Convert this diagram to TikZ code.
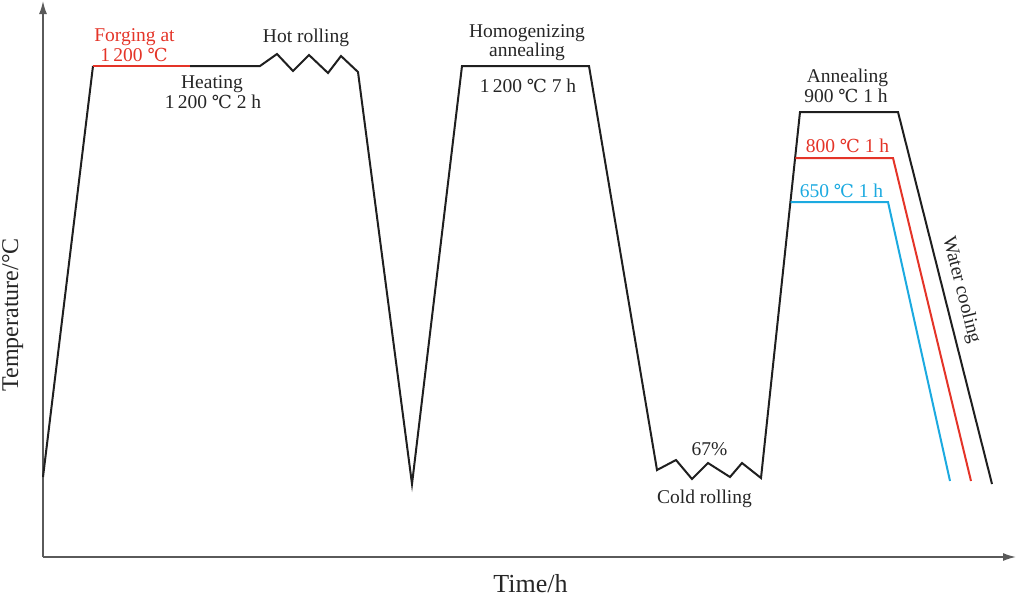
\documentclass[tikz,border=0pt]{standalone}
\usepackage{fontspec}
\setmainfont{Liberation Serif}
\newfontfamily\symfont[Scale=0.92]{DejaVu Serif}
\usetikzlibrary{arrows.meta}
\newcommand\dgc{{\symfont ℃}}
\definecolor{myred}{RGB}{228,52,40}
\definecolor{myblue}{RGB}{28,170,224}
\definecolor{axisgray}{RGB}{90,90,90}
\begin{document}
\begin{tikzpicture}[x=1pt,y=-1pt,
  lab/.style={font=\fontsize{19.5}{20}\selectfont, inner sep=0pt, anchor=base, text=black!85},
  curve/.style={line width=2pt, draw=black!88, line join=miter},
  axisline/.style={line width=1.6pt, draw=axisgray, -{Latex[length=13pt,width=8pt]}}]
\useasboundingbox (0,0) rectangle (1017,598);
% axes
\coordinate (O) at (43,557);
\coordinate (ytop) at (43,1);
\coordinate (xend) at (1016,557);
\draw[axisline] (O) -- (ytop);
\draw[axisline] (O) -- (xend);
% main curve coordinates
\coordinate (p0) at (43,477);
\coordinate (p1) at (93,66);
\coordinate (p2) at (190,66);
\coordinate (h0) at (260,66);
\coordinate (h1) at (277,54);
\coordinate (h2) at (293,71);
\coordinate (h3) at (309,55);
\coordinate (h4) at (328,73);
\coordinate (h5) at (341,56);
\coordinate (h6) at (358,72);
\coordinate (q0) at (412,484);
\coordinate (q1) at (462,66);
\coordinate (q2) at (589,66);
\coordinate (c0) at (657,470);
\coordinate (c1) at (676,460);
\coordinate (c2) at (692,479);
\coordinate (c3) at (708,463);
\coordinate (c4) at (730,477);
\coordinate (c5) at (742,463);
\coordinate (c6) at (761,478);
\coordinate (a1) at (800,112);
\coordinate (a2) at (898,112);
\coordinate (a3) at (992,484);
\coordinate (r1) at (795.4,158);
\coordinate (r2) at (893,158);
\coordinate (r3) at (971,481);
\coordinate (b1) at (790.6,202);
\coordinate (b2) at (888,202);
\coordinate (b3) at (950,481);
% curves
\draw[curve] (p0) -- (p1);
\draw[curve, draw=myred, line cap=butt] (p1) -- (p2);
\draw[curve] (p2) -- (h0) -- (h1) -- (h2) -- (h3) -- (h4) -- (h5) -- (h6) -- (q0) -- (q1) -- (q2)
  -- (c0) -- (c1) -- (c2) -- (c3) -- (c4) -- (c5) -- (c6) -- (a1) -- (a2) -- (a3);
\draw[curve, draw=myred] (r1) -- (r2) -- (r3);
\draw[curve, draw=myblue] (b1) -- (b2) -- (b3);
% labels
\node[lab, text=myred] (forge1) at (134.5,41) {Forging at};
\node[lab, text=myred] (forge2) at (134,61) {1\,200 \dgc};
\node[lab] (hot) at (306,42) {Hot rolling};
\node[lab] (heat1) at (212,88) {Heating};
\node[lab] (heat2) at (213,108) {1\,200 \dgc\ 2 h};
\node[lab] (homo1) at (527,37) {Homogenizing};
\node[lab] (homo2) at (527,56) {annealing};
\node[lab] (homo3) at (528,92) {1\,200 \dgc\ 7 h};
\node[lab] (pct) at (709.5,455) {67\%};
\node[lab] (cold) at (704.5,503) {Cold rolling};
\node[lab] (ann1) at (847.5,82) {Annealing};
\node[lab] (ann2) at (846,102) {900 \dgc\ 1 h};
\node[lab, text=myred] (ann3) at (847.5,152) {800 \dgc\ 1 h};
\node[lab, text=myblue] (ann4) at (841.5,197) {650 \dgc\ 1 h};
\node[lab, anchor=center, rotate=-75.8] (water) at (961,290) {Water cooling};
\node[lab, font=\fontsize{24}{26}\selectfont, rotate=90] (temp) at (18,315) {Temperature/°C};
\node[lab, font=\fontsize{26}{28}\selectfont] (time) at (530.5,592) {Time/h};
\end{tikzpicture}
\end{document}
